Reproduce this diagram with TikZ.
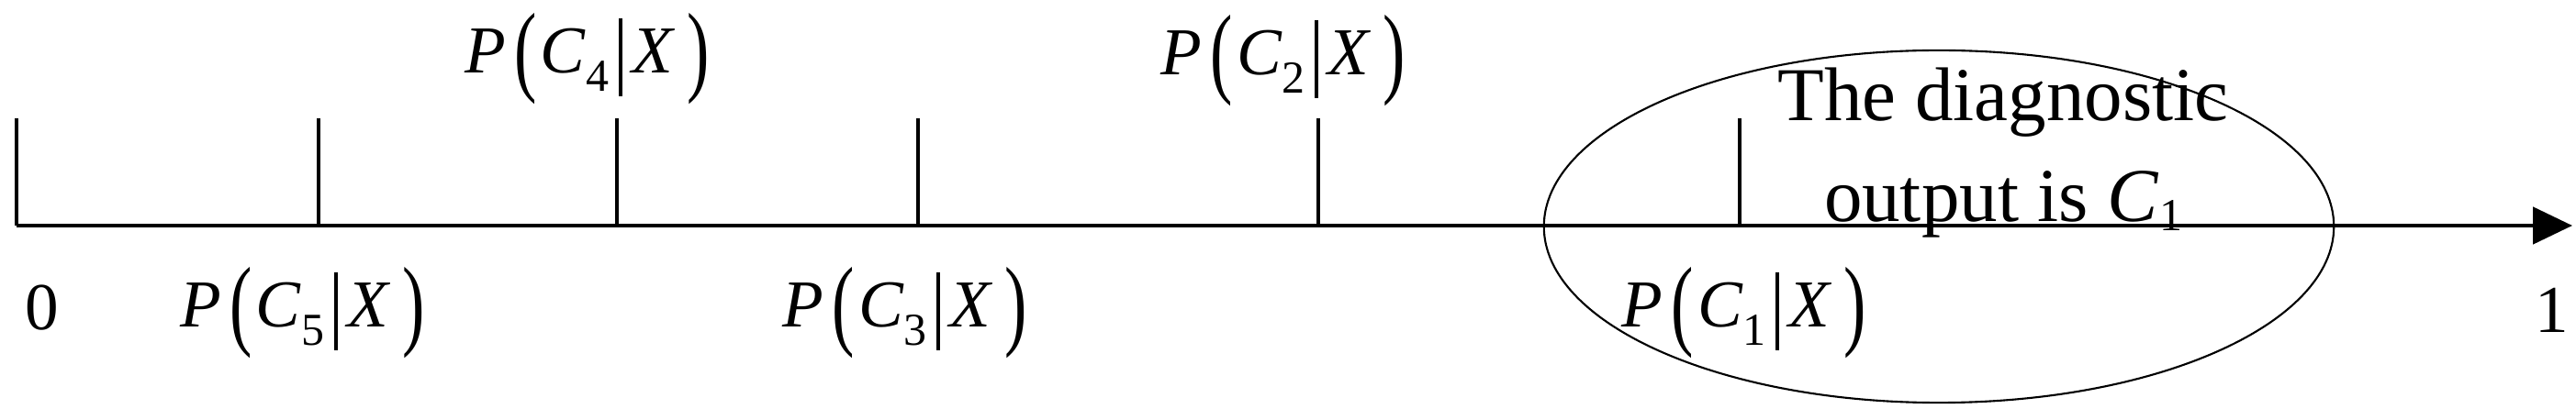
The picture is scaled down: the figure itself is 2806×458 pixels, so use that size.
\documentclass[tikz,border=0pt]{standalone}
\usepackage{fontspec}
\setmainfont{Liberation Serif}
\usepackage{graphicx}
\usetikzlibrary{arrows.meta,positioning,shapes.geometric}
\newcommand{\clraxis}{black}
\newcommand{\subfont}{\fontsize{14.2}{16}\selectfont}
\newcommand{\bigpar}[1]{\raisebox{-0.14em}{\scalebox{1}[1.5]{#1}}}
\newcommand{\pcx}[1]{\textit{P}\hspace{0.12em}\bigpar{(}\hspace{0.06em}\textit{C}\raisebox{-0.26em}{\subfont #1}\hspace{0.15em}\vrule height 0.82em depth 0.34em width 0.045em\hspace{0.15em}\textit{X}\hspace{0.18em}\bigpar{)}}
\begin{document}
\begin{tikzpicture}[x=0.01cm, y=-0.01cm,
    every node/.style={inner sep=0pt},
    lbl/.style={anchor=base, font=\fontsize{20.8}{25}\selectfont},
    axisline/.style={\clraxis, line width=1.4pt, -{Triangle[length=0.43cm,width=0.40cm]}},
    tickline/.style={\clraxis, line width=1.3pt}]
    \useasboundingbox (0,0) rectangle (2806,458);
    %axis
        \coordinate (zero) at (18,246);
        \coordinate (one) at (2802,246);
        \draw[axisline] (zero) -- (one);
    %ticks on the axis
        \foreach \n/\x in {t0/18, t5/347, t4/672, t3/1000, t2/1436, t1/1895} {
            \coordinate (\n) at (\x,246);
            \draw[tickline] (\n) -- ++(0,-117);
        }
    %labels below and above
        \node[lbl] (l0) at (46,360) {0};
        \node[lbl] (p5) at (330,357) {\pcx{5}};
        \node[lbl] (p4) at (640,80) {\pcx{4}};
        \node[lbl] (p3) at (986,357) {\pcx{3}};
        \node[lbl] (p2) at (1398,82) {\pcx{2}};
        \node[lbl] (p1) at (1900,357) {\pcx{1}};
        \node[lbl] (l1) at (2780,363) {1};
    %selected class
        \node[draw, ellipse, line width=0.6pt, minimum width=8.6cm, minimum height=3.84cm] (sel) at (2112,247) {};
        \node[align=center, font=\fontsize{23.6}{31.3}\selectfont] (out) at (2182,167) {The diagnostic\\output is \textit{C}\raisebox{-0.12em}{\subfont 1}};
\end{tikzpicture}
\end{document}
